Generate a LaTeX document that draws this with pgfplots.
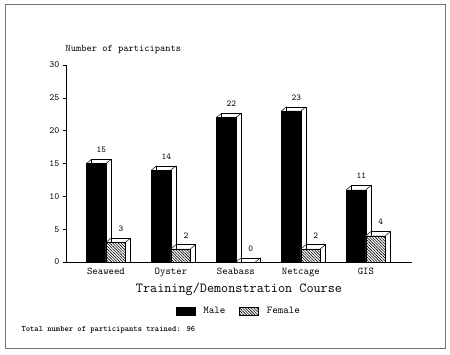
\documentclass[border=0pt]{standalone}
\usepackage{pgfplots}
\pgfplotsset{compat=1.18}
\usetikzlibrary{patterns.meta}
\usepackage{pgfplotstable}

\pgfplotstableread{
x v
-0.15 15
0.85 14
1.85 22
2.85 23
3.85 11
}\maletab
\pgfplotstableread{
x v
0.15 3
1.15 2
2.15 0
3.15 2
4.15 4
}\femaletab

\begin{document}
\begin{tikzpicture}[font=\ttfamily]
\begin{axis}[
  scale only axis, width=346pt, height=197pt,
  xmin=-0.615, xmax=4.71, ymin=0, ymax=30,
  axis x line*=bottom, axis y line*=left,
  axis line style={black, line width=0.6pt},
  xtick={0,1,2,3,4}, xticklabels={Seaweed,Oyster,Seabass,Netcage,GIS},
  x tick style={draw=none},
  ytick={0,5,...,30},
  tick align=outside, major tick length=3pt,
  y tick style={black, line width=0.5pt},
  /pgf/number format/assume math mode=true,
  yticklabel style={font=\ttfamily\fontsize{9.5}{10}\selectfont},
  xticklabel style={font=\ttfamily\fontsize{10.3}{11}\selectfont},
  title={Number of participants},
  title style={at={(axis description cs:0,1)}, anchor=west, xshift=-4pt, yshift=9pt, font=\ttfamily\fontsize{10}{11}\selectfont},
  xlabel={Training/Demonstration Course},
  xlabel style={at={(axis description cs:0.5,0)}, anchor=center, yshift=-27pt, font=\ttfamily\fontsize{13.8}{15}\selectfont},
  legend style={at={(axis description cs:0.5,0)}, anchor=center, yshift=-49pt, draw=none, fill=none,
    legend columns=2, font=\ttfamily\fontsize{10.5}{11}\selectfont,
    /tikz/every odd column/.append style={column sep=6pt},
    /tikz/every even column/.append style={column sep=12pt}},
  legend image code/.code={\draw[#1] (0pt,-4pt) rectangle (19pt,4pt);},
  clip=false,
]
% back (3D) boxes with value labels
\addplot[ybar, bar width=0.3, bar shift=0pt, fill=white, draw=black, forget plot,
  point meta=explicit, nodes near coords,
  nodes near coords style={font=\ttfamily\fontsize{9}{10}\selectfont, anchor=south, yshift=3pt}]
  table[x expr=\thisrow{x}+0.08, y expr=\thisrow{v}+0.65, meta=v]{\maletab};
\addplot[ybar, bar width=0.3, bar shift=0pt, fill=white, draw=black, forget plot,
  point meta=explicit, nodes near coords,
  nodes near coords style={font=\ttfamily\fontsize{9}{10}\selectfont, anchor=south, yshift=3pt}]
  table[x expr=\thisrow{x}+0.08, y expr=\thisrow{v}+0.65, meta=v]{\femaletab};
% depth edges
\addplot[forget plot, black, line width=0.5pt, quiver={u=0.08, v=0.65}] table[x expr=\thisrow{x}-0.15, y=v]{\maletab};
\addplot[forget plot, black, line width=0.5pt, quiver={u=0.08, v=0.65}] table[x expr=\thisrow{x}+0.15, y=v]{\maletab};
\addplot[forget plot, black, line width=0.5pt, quiver={u=0.08, v=0.65}] table[x expr=\thisrow{x}-0.15, y=v]{\femaletab};
\addplot[forget plot, black, line width=0.5pt, quiver={u=0.08, v=0.65}] table[x expr=\thisrow{x}+0.15, y=v]{\femaletab};
% front faces
\addplot[ybar, bar width=0.3, bar shift=0pt, fill=black, draw=black] table[x=x, y=v]{\maletab};
\addplot[ybar, bar width=0.3, bar shift=0pt, fill=white, draw=black,
  postaction={pattern={Lines[angle=-45, distance=2pt, line width=0.6pt]}}] table[x=x, y=v]{\femaletab};
\legend{Male, Female}
\end{axis}
\node[anchor=west, font=\ttfamily\bfseries\fontsize{8.2}{9}\selectfont] at (-48pt,-68pt) {Total number of participants trained: 96};
\draw[black!55, line width=1pt] (-60pt,-86pt) rectangle (379pt,257pt);
\path (-66pt,-92pt) rectangle (384pt,262pt);
\end{tikzpicture}
\end{document}
